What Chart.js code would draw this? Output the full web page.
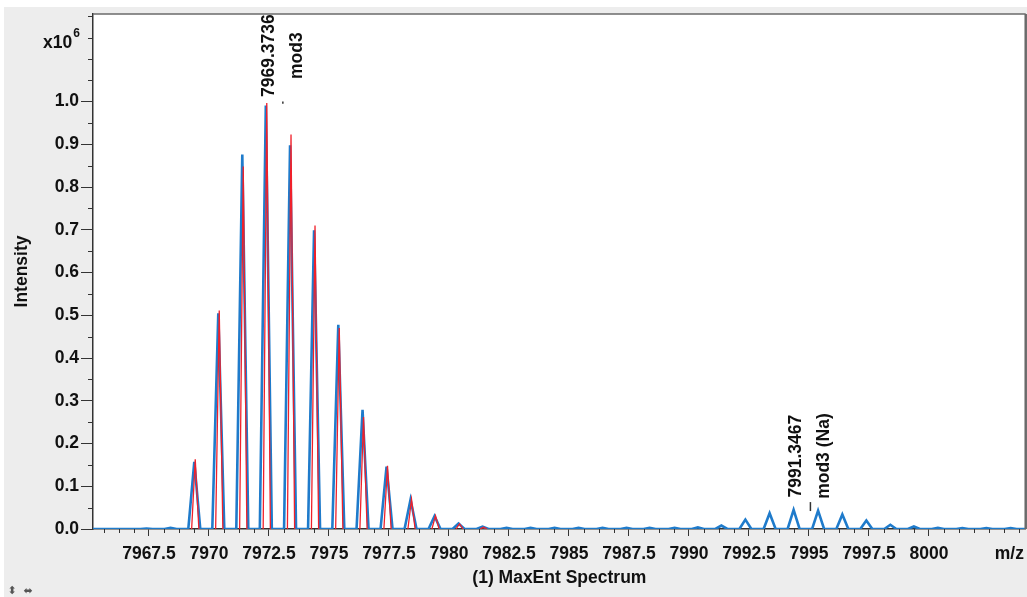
<!DOCTYPE html>
<html>
<head>
<meta charset="utf-8">
<script src="https://cdn.jsdelivr.net/npm/chart.js@4.4.1/dist/chart.umd.min.js"></script>
<style>
  html, body { margin: 0; padding: 0; background: #ffffff; }
  #wrap { width: 1027px; height: 597px; position: relative; }
  canvas { display: block; }
</style>
</head>
<body>
<div id="wrap"><canvas id="c" width="1027" height="597"></canvas></div>
<script>
// ---- data (intensity in units of 10^6) ----
const measuredMz = [7967.40, 7968.40, 7969.39, 7970.39, 7971.39, 7972.37, 7973.38, 7974.38, 7975.39, 7976.40,
  7977.40, 7978.40, 7979.40, 7980.40, 7981.40, 7982.40, 7983.40, 7984.40, 7985.40, 7986.40, 7987.40, 7988.36,
  7989.40, 7990.37, 7991.35, 7992.35, 7993.36, 7994.36, 7995.38, 7996.39, 7997.39, 7998.39, 7999.37, 8000.37,
  8001.39, 8002.39, 8003.40];
const measuredIntensity = [0.001, 0.003, 0.157, 0.505, 0.876, 0.991, 0.898, 0.699, 0.478, 0.279,
  0.146, 0.069, 0.030, 0.013, 0.0055, 0.003, 0.0025, 0.0025, 0.0025, 0.0025, 0.0025, 0.0025,
  0.0025, 0.004, 0.008, 0.022, 0.037, 0.045, 0.043, 0.034, 0.020, 0.010, 0.006, 0.003,
  0.002, 0.002, 0.002];
const theoreticalMz = [7969.43, 7970.43, 7971.43, 7972.41, 7973.42, 7974.42, 7975.43, 7976.44, 7977.44,
  7978.44, 7979.44, 7980.44, 7981.44];
const theoreticalIntensity = [0.163, 0.511, 0.848, 0.997, 0.923, 0.710, 0.470, 0.262, 0.148,
  0.070, 0.031, 0.012, 0.004];

const xMajorTicks = [7967.5, 7970, 7972.5, 7975, 7977.5, 7980, 7982.5, 7985, 7987.5, 7990, 7992.5, 7995, 7997.5, 8000];
const xTickLabels = ['7967.5', '7970', '7972.5', '7975', '7977.5', '7980', '7982.5', '7985', '7987.5', '7990', '7992.5', '7995', '7997.5', '8000'];
const yMajorTicks = [0, 0.1, 0.2, 0.3, 0.4, 0.5, 0.6, 0.7, 0.8, 0.9, 1.0];
const yTickLabels = ['0.0', '0.1', '0.2', '0.3', '0.4', '0.5', '0.6', '0.7', '0.8', '0.9', '1.0'];

const annMz = [7973.08, 7995.06];
const annMarkTop = [1.0, 0.063];
const annMarkBottom = [0.995, 0.042];
const annLine1 = ['7969.3736', '7991.3467'];
const annLine2 = ['mod3', 'mod3 (Na)'];

const xTitle = '(1) MaxEnt Spectrum';
const yTitle = 'Intensity';
const xUnit = 'm/z';

// ---- axis ranges / styles ----
const X_MIN = 7965.17, X_MAX = 8004.03, X_MINOR = 0.625;
const Y_MIN = 0, Y_MAX = 1.205, Y_MINOR = 0.05;
const BLUE = '#1f7bcb', RED = '#f0202a';
const FONT = '"Liberation Sans", Arial, sans-serif';
const FS = 17.5;
const BLUE_HW = 0.25, RED_HW = 0.15;

// build line data from peak lists
const bluePts = [{x: X_MIN, y: 0}];
measuredMz.forEach((c, i) => {
  bluePts.push({x: c - BLUE_HW, y: 0}, {x: c, y: measuredIntensity[i]}, {x: c + BLUE_HW, y: 0});
});
bluePts.push({x: X_MAX, y: 0});
const redPts = [];
theoreticalMz.forEach((c, i) => {
  redPts.push({x: c - RED_HW, y: 0}, {x: c, y: theoreticalIntensity[i]}, {x: c + RED_HW, y: 0}, {x: c + RED_HW + 0.01, y: null});
});

const near = (a, b) => Math.abs(a - b) < 1e-6;
const majorIndex = (arr, v) => arr.findIndex(t => near(t, v));

const decor = {
  id: 'decor',
  beforeDraw(chart) {
    const ctx = chart.ctx, a = chart.chartArea;
    ctx.save();
    ctx.fillStyle = '#ffffff';
    ctx.fillRect(0, 0, chart.width, chart.height);
    ctx.fillStyle = '#ededed';
    ctx.fillRect(4, 7, chart.width - 4, chart.height - 7);
    ctx.fillStyle = '#ffffff';
    ctx.fillRect(a.left, a.top, a.right - a.left, a.bottom - a.top);
    ctx.restore();
  },
  afterDraw(chart) {
    const ctx = chart.ctx, a = chart.chartArea;
    const xs = chart.scales.x, ys = chart.scales.y;
    ctx.save();
    // frame top / right
    ctx.strokeStyle = '#6a6a6a';
    ctx.lineWidth = 1.5;
    ctx.beginPath(); ctx.moveTo(a.left, a.top); ctx.lineTo(a.right, a.top); ctx.stroke();
    ctx.lineWidth = 2.5;
    ctx.beginPath(); ctx.moveTo(a.right, a.top); ctx.lineTo(a.right, a.bottom); ctx.stroke();
    // minor ticks
    ctx.strokeStyle = '#333';
    ctx.lineWidth = 1;
    xs.ticks.forEach(t => {
      if (majorIndex(xMajorTicks, t.value) < 0) {
        const px = Math.round(xs.getPixelForValue(t.value)) + 0.5;
        ctx.beginPath(); ctx.moveTo(px, a.bottom); ctx.lineTo(px, a.bottom + 4); ctx.stroke();
      }
    });
    ys.ticks.forEach(t => {
      if (majorIndex(yMajorTicks, t.value) < 0) {
        const py = Math.round(ys.getPixelForValue(t.value)) + 0.5;
        ctx.beginPath(); ctx.moveTo(a.left, py); ctx.lineTo(a.left - 5, py); ctx.stroke();
      }
    });
    // annotations
    ctx.fillStyle = '#111';
    ctx.strokeStyle = '#333';
    annMz.forEach((m, i) => {
      const px = xs.getPixelForValue(m);
      const pt = ys.getPixelForValue(annMarkTop[i]);
      const pb = ys.getPixelForValue(annMarkBottom[i]);
      ctx.lineWidth = 1.5;
      ctx.beginPath(); ctx.moveTo(px, pt); ctx.lineTo(px, Math.max(pb, pt + 1.5)); ctx.stroke();
      const cy = pt - 46;
      ctx.font = 'bold ' + FS + 'px ' + FONT;
      ctx.textAlign = 'center';
      ctx.textBaseline = 'middle';
      [[annLine1[i], -14], [annLine2[i], 14]].forEach(([txt, dx]) => {
        ctx.save();
        ctx.translate(px + dx, cy);
        ctx.rotate(-Math.PI / 2);
        ctx.fillText(txt, 0, 0);
        ctx.restore();
      });
    });
    // x10^6
    ctx.textAlign = 'left';
    ctx.textBaseline = 'alphabetic';
    ctx.font = 'bold ' + FS + 'px ' + FONT;
    ctx.fillText('x10', 43, 48);
    const w = ctx.measureText('x10').width;
    ctx.font = 'bold 12px ' + FONT;
    ctx.fillText('6', 43 + w + 1, 37);
    // m/z unit
    ctx.font = 'bold ' + FS + 'px ' + FONT;
    ctx.textAlign = 'center';
    ctx.textBaseline = 'middle';
    ctx.fillText(xUnit, xs.getPixelForValue(8003.35), a.bottom + 25);
    // small icons
    ctx.fillStyle = '#555';
    ctx.font = '11px "DejaVu Sans"';
    ctx.fillText('\u2B0D', 12, 591);
    ctx.fillText('\u2B0C', 28, 591);
    ctx.restore();
  }
};

new Chart(document.getElementById('c'), {
  type: 'line',
  data: {
    datasets: [
      { label: 'theoretical', data: redPts, borderColor: RED, borderWidth: 1.3, pointRadius: 0, tension: 0, spanGaps: false, fill: false },
      { label: 'measured', data: bluePts, borderColor: BLUE, borderWidth: 2.6, pointRadius: 0, tension: 0, fill: false }
    ]
  },
  options: {
    responsive: false,
    animation: false,
    events: [],
    layout: { padding: { top: 14, right: 1, left: 0, bottom: 0 } },
    plugins: { legend: { display: false }, tooltip: { enabled: false } },
    scales: {
      x: {
        type: 'linear', min: X_MIN, max: X_MAX,
        afterFit(s) { s.height = 68; },
        afterBuildTicks(s) {
          const t = [];
          for (let k = Math.ceil(X_MIN / X_MINOR); k * X_MINOR <= X_MAX; k++) t.push({value: Math.round(k * X_MINOR * 1000) / 1000});
          s.ticks = t;
        },
        grid: {
          display: true, drawOnChartArea: false, drawTicks: true, tickLength: 7,
          tickColor: c => (c.tick && majorIndex(xMajorTicks, c.tick.value) >= 0) ? '#333' : 'rgba(0,0,0,0)',
          tickWidth: 1
        },
        border: { display: true, color: '#333', width: 1.5 },
        ticks: {
          autoSkip: false, maxRotation: 0, minRotation: 0, padding: 8, color: '#111',
          font: { family: FONT, size: FS, weight: 'bold' },
          callback: v => { const i = majorIndex(xMajorTicks, v); return i >= 0 ? xTickLabels[i] : ''; }
        },
        title: { display: true, text: xTitle, color: '#111', font: { family: FONT, size: FS, weight: 'bold' }, padding: { top: 0, bottom: 8 } }
      },
      y: {
        type: 'linear', min: Y_MIN, max: Y_MAX,
        afterFit(s) { s.width = 93; },
        afterBuildTicks(s) {
          const t = [];
          for (let k = 0; k * Y_MINOR <= Y_MAX + 1e-9; k++) t.push({value: Math.round(k * Y_MINOR * 100) / 100});
          s.ticks = t;
        },
        grid: {
          display: true, drawOnChartArea: false, drawTicks: true, tickLength: 12,
          tickColor: c => (c.tick && majorIndex(yMajorTicks, c.tick.value) >= 0) ? '#333' : 'rgba(0,0,0,0)',
          tickWidth: 1
        },
        border: { display: true, color: '#333', width: 1.5 },
        ticks: {
          autoSkip: false, padding: 2, color: '#111',
          font: { family: FONT, size: FS, weight: 'bold' },
          callback: v => { const i = majorIndex(yMajorTicks, v); return i >= 0 ? yTickLabels[i] : ''; }
        },
        title: { display: true, text: yTitle, color: '#111', font: { family: FONT, size: FS, weight: 'bold' }, padding: { top: 12, bottom: 0 } }
      }
    }
  },
  plugins: [decor]
});
</script>
</body>
</html>
